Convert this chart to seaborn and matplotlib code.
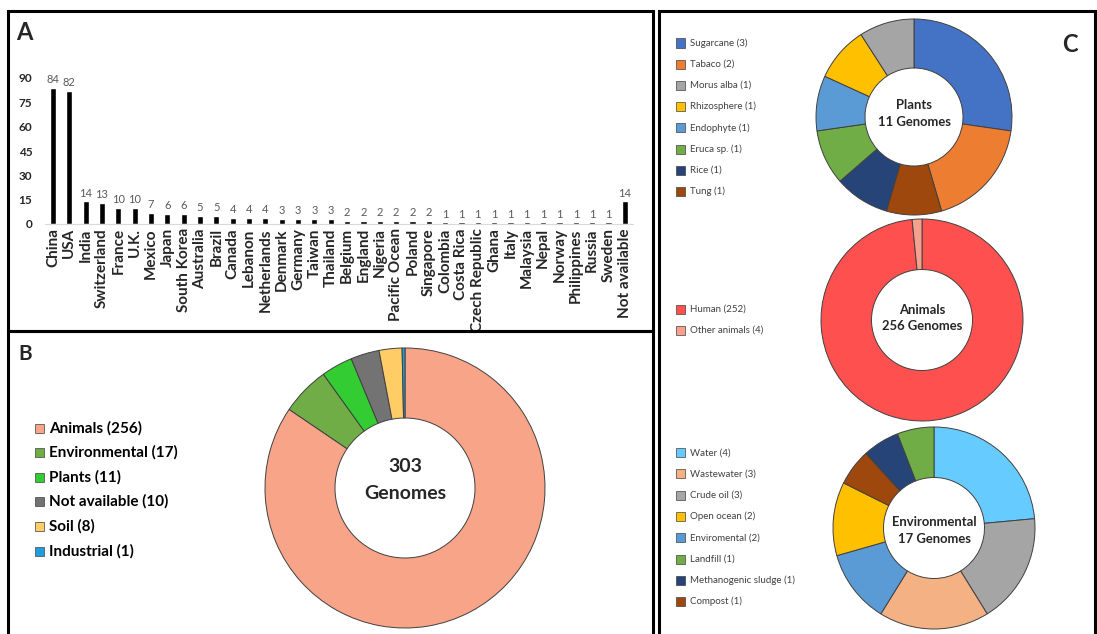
import matplotlib
matplotlib.use("Agg")
import matplotlib.pyplot as plt
from matplotlib.patches import Rectangle
import seaborn as sns

# ---- data ----
countries = ["China", "USA", "India", "Switzerland", "France", "U.K.", "Mexico", "Japan",
             "South Korea", "Australia", "Brazil", "Canada", "Lebanon", "Netherlands",
             "Denmark", "Germany", "Taiwan", "Thailand", "Belgium", "England", "Nigeria",
             "Pacific Ocean", "Poland", "Singapore", "Colombia", "Costa Rica",
             "Czech Republic", "Ghana", "Italy", "Malaysia", "Nepal", "Norway",
             "Philippines", "Russia", "Sweden", "Not available"]
country_counts = [84, 82, 14, 13, 10, 10, 7, 6, 6, 5, 5, 4, 4, 4, 3, 3, 3, 3, 2, 2, 2,
                  2, 2, 2, 1, 1, 1, 1, 1, 1, 1, 1, 1, 1, 1, 14]

source_names = ["Animals", "Environmental", "Plants", "Not available", "Soil", "Industrial"]
source_counts = [256, 17, 11, 10, 8, 1]
source_colors = ["#F8A488", "#70AD47", "#33CC33", "#737373", "#FFCC66", "#1F9ED9"]

plant_names = ["Sugarcane", "Tabaco", "Morus alba", "Rhizosphere", "Endophyte",
               "Eruca sp.", "Rice", "Tung"]
plant_counts = [3, 2, 1, 1, 1, 1, 1, 1]
plant_colors = ["#4472C4", "#ED7D31", "#A5A5A5", "#FFC000", "#5B9BD5", "#70AD47",
                "#264478", "#9E480E"]
plant_order = [0, 1, 7, 6, 5, 4, 3, 2]   # clockwise wedge order

animal_names = ["Human", "Other animals"]
animal_counts = [252, 4]
animal_colors = ["#FF5050", "#F8A08E"]
animal_order = [0, 1]

env_names = ["Water", "Wastewater", "Crude oil", "Open ocean", "Enviromental",
             "Landfill", "Methanogenic sludge", "Compost"]
env_counts = [4, 3, 3, 2, 2, 1, 1, 1]
env_colors = ["#66CCFF", "#F4B183", "#A5A5A5", "#FFC000", "#5B9BD5", "#70AD47",
              "#264478", "#9E480E"]
env_order = [0, 2, 1, 4, 3, 7, 6, 5]

# ---- style ----
sns.set_style("white")
plt.rcParams["font.family"] = ["Lato", "DejaVu Sans"]

W, H = 1097, 634
fig = plt.figure(figsize=(W / 100, H / 100), dpi=100)


def px_box(x0, y0, x1, y1):
    return [x0 / W, 1 - y1 / H, (x1 - x0) / W, (y1 - y0) / H]


# panel frames
for (x0, y0, x1, y1) in [(8, 11, 653, 331), (8, 331, 653, 645), (659, 11, 1095, 645)]:
    fig.add_artist(Rectangle((x0 / W, 1 - y1 / H), (x1 - x0) / W, (y1 - y0) / H,
                             transform=fig.transFigure, fill=False,
                             edgecolor="black", linewidth=2.2))

fig.text(16 / W, 1 - 33 / H, "A", fontsize=17, fontweight="bold", va="center")
fig.text(18 / W, 1 - 354 / H, "B", fontsize=15, fontweight="bold", va="center")
fig.text(1062 / W, 1 - 45 / H, "C", fontsize=17, fontweight="bold", va="center")

# ---- A: bar chart ----
ytop = 91
ax = fig.add_axes(px_box(44.8, 224 - 146 * ytop / 90, 633, 224))
sns.barplot(x=countries, y=country_counts, color="black", width=0.38,
            saturation=1, ax=ax)
ax.bar_label(ax.containers[0], padding=2, color="#595959", fontsize=8)
ax.set_ylim(0, ytop)
ax.set_xlim(-0.5, len(countries) - 0.5)
ax.set_yticks(range(0, 91, 15))
for s in ["top", "right", "left"]:
    ax.spines[s].set_visible(False)
ax.spines["bottom"].set_color("#D9D9D9")
ax.tick_params(axis="y", length=0, pad=9, labelsize=8.5)
ax.tick_params(axis="x", length=0, pad=3, labelsize=11, rotation=90)
for t in ax.get_xticklabels() + ax.get_yticklabels():
    t.set_fontweight("bold")
ax.set_xlabel("")
ax.set_ylabel("")


# ---- donuts ----
def donut(cx, cy, r, counts, colors, order):
    a = fig.add_axes(px_box(cx - r * 1.02, cy - r * 1.02, cx + r * 1.02, cy + r * 1.02))
    a.pie([counts[i] for i in order], colors=[colors[i] for i in order],
          startangle=90, counterclock=False, radius=1,
          wedgeprops=dict(width=0.5, edgecolor="#404040", linewidth=0.7))
    a.set_xlim(-1.02, 1.02)
    a.set_ylim(-1.02, 1.02)
    a.axis("off")
    return a


def legend(x, y0, step, names, counts, colors, size, weight, box, color):
    for k, (n, c, col) in enumerate(zip(names, counts, colors)):
        y = y0 + k * step
        fig.add_artist(Rectangle((x / W, 1 - (y + box / 2) / H), box / W, box / H,
                                 transform=fig.transFigure, facecolor=col,
                                 edgecolor="#404040", linewidth=0.5))
        fig.text((x + box + 5) / W, 1 - y / H, f"{n} ({c})", fontsize=size,
                 fontweight=weight, color=color, va="center")


# B
b = donut(405, 488, 140, source_counts, source_colors, range(len(source_counts)))
b.text(0, 0.15, "303", ha="center", va="center", fontsize=14, fontweight="bold")
b.text(0, -0.04, "Genomes", ha="center", va="center", fontsize=14, fontweight="bold")
legend(35, 428, 24.6, source_names, source_counts, source_colors, 11, "bold", 9, "black")

# C
p = donut(914, 117, 98, plant_counts, plant_colors, plant_order)
p.text(0, 0.12, "Plants", ha="center", va="center", fontsize=9.4, fontweight="bold")
p.text(0, -0.05, "11 Genomes", ha="center", va="center", fontsize=9.4, fontweight="bold")
legend(676, 43, 21.2, plant_names, plant_counts, plant_colors, 7, "normal", 9, "#404040")

an = donut(922, 320, 101, animal_counts, animal_colors, animal_order)
an.text(0, 0.10, "Animals", ha="center", va="center", fontsize=9.4, fontweight="bold")
an.text(0, -0.06, "256 Genomes", ha="center", va="center", fontsize=9.4, fontweight="bold")
legend(676, 309, 21.2, animal_names, animal_counts, animal_colors, 7, "normal", 9, "#404040")

e = donut(934, 528, 101, env_counts, env_colors, env_order)
e.text(0, 0.06, "Environmental", ha="center", va="center", fontsize=9.4, fontweight="bold")
e.text(0, -0.11, "17 Genomes", ha="center", va="center", fontsize=9.4, fontweight="bold")
legend(676, 452.6, 21.3, env_names, env_counts, env_colors, 7, "normal", 9, "#404040")

fig.savefig("out.png", dpi=100)
